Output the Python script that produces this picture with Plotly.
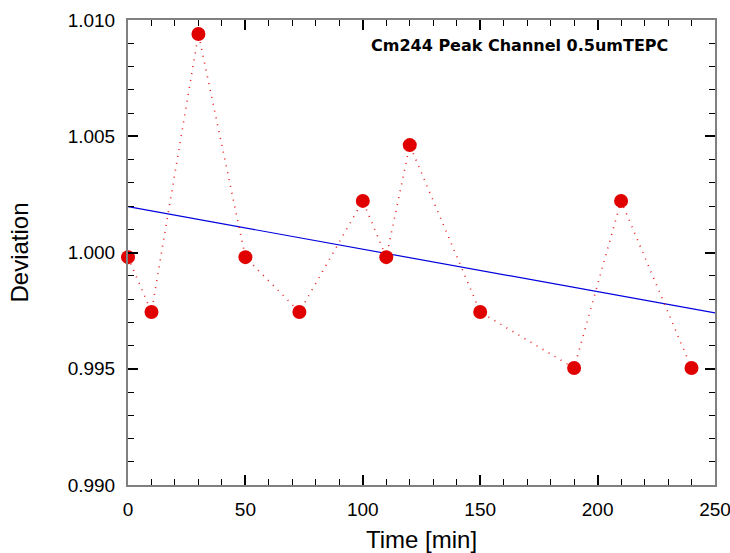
import numpy as np
import plotly.graph_objects as go

time_min = [0, 10, 30, 50, 73, 100, 110, 120, 150, 190, 210, 240]
deviation = [0.9998, 0.99744, 1.0094, 0.9998, 0.99744, 1.00222, 0.9998,
             1.00462, 0.99744, 0.99503, 1.00222, 0.99503]
fit_x = [0, 250]
fit_y = [1.00197, 0.99740]

x_ticks = [0, 50, 100, 150, 200, 250]
x_tick_labels = ["0", "50", "100", "150", "200", "250"]
y_ticks = [0.990, 0.995, 1.000, 1.005, 1.010]
y_tick_labels = ["0.990", "0.995", "1.000", "1.005", "1.010"]

fig = go.Figure()
fig.add_trace(go.Scatter(x=fit_x, y=fit_y, mode="lines",
                         line=dict(color="#0000dd", width=1.2), showlegend=False))
fig.add_trace(go.Scatter(x=time_min, y=deviation, mode="lines",
                         line=dict(color="#e82020", width=1.6, dash="1px,6px"),
                         showlegend=False))
fig.add_trace(go.Scatter(x=time_min, y=deviation, mode="markers", cliponaxis=False,
                         marker=dict(color="#e00000", size=14, symbol="circle"),
                         showlegend=False))

tickfont = dict(family="Liberation Sans Narrow, Liberation Sans", size=19, color="black")
axis_common = dict(showgrid=False, zeroline=False, showline=True, linecolor="#808080",
                   linewidth=2, mirror="ticks", ticks="inside", tickcolor="black",
                   tickwidth=1.5, tickfont=tickfont, automargin=False,
                   ticklabeloverflow="allow")

fig.update_xaxes(range=[0, 250], tickvals=x_ticks, ticktext=x_tick_labels, ticklen=10,
                 ticklabelstandoff=6,
                 minor=dict(dtick=10, ticks="inside", ticklen=6, tickcolor="black", tickwidth=1),
                 title=dict(text="Time [min]", font=dict(family="Liberation Sans", size=24, color="black"), standoff=14),
                 **axis_common)
fig.update_yaxes(range=[0.990, 1.010], tickvals=y_ticks, ticktext=y_tick_labels, ticklen=10,
                 ticklabelstandoff=7,
                 minor=dict(dtick=0.001, ticks="inside", ticklen=6, tickcolor="black", tickwidth=1),
                 title=dict(text="Deviation", font=dict(family="Liberation Sans", size=24, color="black"), standoff=32),
                 **axis_common)

fig.add_annotation(x=0.923, y=0.946, xref="paper", yref="paper", xanchor="right", yanchor="middle",
                   text="<b>Cm244 Peak Channel 0.5umTEPC</b>", showarrow=False,
                   font=dict(family="DejaVu Sans", size=16, color="black"))

fig.update_layout(width=730, height=553, margin=dict(l=128, r=15, t=20, b=68),
                  plot_bgcolor="white", paper_bgcolor="white")

fig.write_html("out.html", config={"displayModeBar": False},
               post_script="document.body.style.margin='0';document.body.style.overflow='hidden';")
